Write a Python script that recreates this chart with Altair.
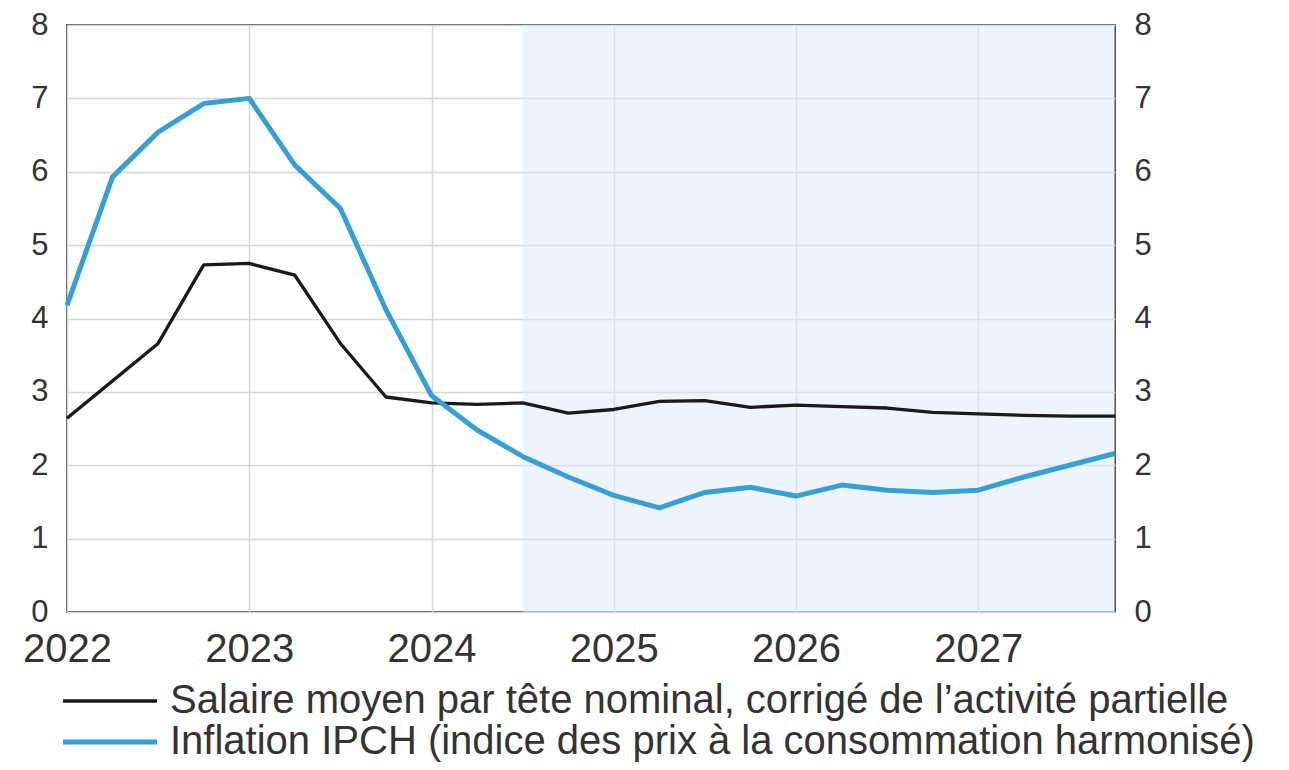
import altair as alt
import pandas as pd

# ---- data ----
quarters = [2022.0, 2022.25, 2022.5, 2022.75,
            2023.0, 2023.25, 2023.5, 2023.75,
            2024.0, 2024.25, 2024.5, 2024.75,
            2025.0, 2025.25, 2025.5, 2025.75,
            2026.0, 2026.25, 2026.5, 2026.75,
            2027.0, 2027.25, 2027.5, 2027.75]

salaire = [2.64, 3.15, 3.66, 4.73,
           4.75, 4.59, 3.66, 2.93,
           2.85, 2.83, 2.85, 2.71,
           2.76, 2.87, 2.88, 2.79,
           2.82, 2.80, 2.78, 2.72,
           2.70, 2.68, 2.67, 2.67]

inflation = [4.18, 5.93, 6.54, 6.93,
             7.00, 6.09, 5.50, 4.12,
             2.95, 2.48, 2.12, 1.84,
             1.59, 1.42, 1.63, 1.70,
             1.58, 1.73, 1.66, 1.63,
             1.66, 1.84, 2.00, 2.16]

series_names = ["Salaire moyen par tête nominal, corrigé de l’activité partielle",
                "Inflation IPCH (indice des prix à la consommation harmonisé)"]
series_colors = ["#1a1a1a", "#35A0D8"]
series_widths = [3.3, 5]

year_ticks = [2022, 2023, 2024, 2025, 2026, 2027]
y_ticks = [0, 1, 2, 3, 4, 5, 6, 7, 8]

shade_start = [2024.5]
shade_end = [2027.75]

# ---- tables ----
df = pd.DataFrame({
    "t": quarters * 2,
    "v": salaire + inflation,
    "s": [series_names[0]] * len(quarters) + [series_names[1]] * len(quarters),
})
shade = pd.DataFrame({"a": shade_start, "b": shade_end})

FONT = "Liberation Sans"
TXT = "#333333"

xscale = alt.Scale(domain=[2022, 2027.75], nice=False, zero=False)
xaxis = alt.Axis(values=year_ticks, format="d", labelFlush=False, grid=True,
                 gridColor="#d6d6d6", gridWidth=1.5, domain=False, ticks=False,
                 labelFontSize=40, labelColor=TXT, labelPadding=17, title=None)
yscale = alt.Scale(domain=[0, 8], nice=False, zero=True)


def make_legend():
    return alt.Legend(title=None, orient="none", legendX=23, legendY=656,
                      symbolType="M-4,0H4", symbolSize=552,
                      labelFontSize=40, labelColor=TXT, labelOffset=40,
                      labelLimit=2000, rowPadding=1, direction="vertical")


color = alt.Color("s:N", scale=alt.Scale(domain=series_names, range=series_colors),
                  legend=make_legend())
width_enc = alt.StrokeWidth("s:N", scale=alt.Scale(domain=series_names, range=series_widths),
                            legend=make_legend())

rect = alt.Chart(shade).mark_rect(color="#DCE9F8", opacity=0.5).encode(
    x=alt.X("a:Q", scale=xscale, axis=xaxis),
    x2="b:Q",
)

line_left = alt.Chart(df).transform_filter(
    alt.datum.s == series_names[0]
).mark_line(strokeJoin="round").encode(
    x=alt.X("t:Q", scale=xscale, axis=xaxis),
    y=alt.Y("v:Q", scale=yscale,
            axis=alt.Axis(orient="left", values=y_ticks, grid=True, gridColor="#d6d6d6",
                          gridWidth=1.5, domain=False, ticks=False, labelFontSize=31,
                          labelColor=TXT, labelPadding=19, title=None)),
    color=color,
    strokeWidth=width_enc,
)

line_right = alt.Chart(df).transform_filter(
    alt.datum.s == series_names[1]
).mark_line(strokeJoin="round").encode(
    x=alt.X("t:Q", scale=xscale, axis=xaxis),
    y=alt.Y("v:Q", scale=yscale,
            axis=alt.Axis(orient="right", values=y_ticks, grid=False, domain=False,
                          ticks=False, labelFontSize=31, labelColor=TXT,
                          labelPadding=19, title=None)),
    color=color,
    strokeWidth=width_enc,
)

chart = alt.layer(rect, line_left, line_right).resolve_scale(
    y="independent"
).properties(
    width=1048,
    height=587,
    autosize=alt.AutoSizeParams(type="none"),
    padding={"left": 59, "top": 17, "right": 166, "bottom": 150},
).configure(
    font=FONT,
).configure_view(
    stroke="#555555",
    strokeWidth=2,
)

chart.save("out.html", embed_options={"renderer": "svg", "actions": False})
